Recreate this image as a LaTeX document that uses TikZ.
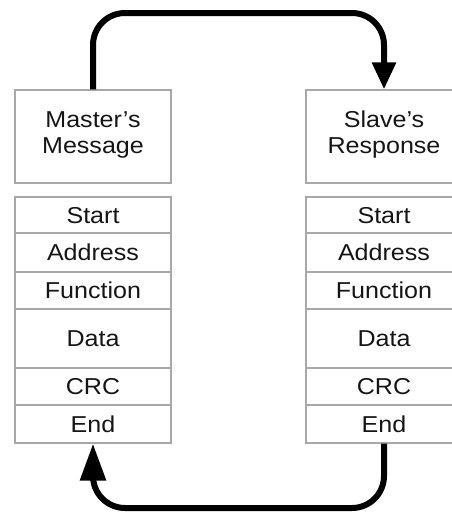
\documentclass[tikz,border=0pt]{standalone}
\usepackage{fontspec}
\setmainfont{Liberation Sans}[FakeStretch=1.09]
\usetikzlibrary{arrows.meta}
\definecolor{boxgray}{HTML}{A8A8A8}
\definecolor{ink}{HTML}{151515}
\tikzset{
  hdr/.style={draw=boxgray, line width=1.3pt, minimum width=156pt, minimum height=93pt, inner sep=0pt},
  fld/.style={draw=boxgray, line width=1.3pt, minimum width=156pt, inner sep=0pt, text height=16.5pt, text depth=0pt, text=ink},
  lbl/.style={align=center, inner sep=0pt, text=ink},
  flow/.style={line width=6pt, rounded corners=32pt}
}
\begin{document}
\begin{tikzpicture}[x=1pt,y=-1pt, font=\fontsize{23}{26}\selectfont]
\useasboundingbox (0,0) rectangle (452,514);
\clip (0,0) rectangle (452,514);
% left column
\node[hdr] (mhead) at (93,136.5) {};
\node[lbl] (mtxt) at (93,134.5) {Master’s\\Message};
\node[fld, minimum height=36pt] (mstart) at (93,215) {Start};
\node[fld, minimum height=39pt] (maddr) at (93,252.5) {Address};
\node[fld, minimum height=37pt] (mfunc) at (93,290.5) {Function};
\node[fld, minimum height=59pt] (mdata) at (93,338.5) {Data};
\node[fld, minimum height=37pt] (mcrc) at (93,386.5) {CRC};
\node[fld, minimum height=38pt] (mend) at (93,424) {End};
% right column
\node[hdr] (shead) at (384,136.5) {};
\node[lbl] (stxt) at (384,134.5) {Slave’s\\Response};
\node[fld, minimum height=36pt] (sstart) at (384,215) {Start};
\node[fld, minimum height=39pt] (saddr) at (384,252.5) {Address};
\node[fld, minimum height=37pt] (sfunc) at (384,290.5) {Function};
\node[fld, minimum height=59pt] (sdata) at (384,338.5) {Data};
\node[fld, minimum height=37pt] (scrc) at (384,386.5) {CRC};
\node[fld, minimum height=38pt] (send) at (384,424) {End};
% connectors
\coordinate (tl) at (93,13);
\coordinate (tr) at (384,13);
\coordinate (bl) at (93,508);
\coordinate (br) at (384,508);
\draw[flow, -{Triangle[length=27pt,width=23pt]}] (mhead.north) -- (tl) -- (tr) -- (shead.north);
\draw[flow, -{Triangle[length=37pt,width=25pt]}] (send.south) -- (br) -- (bl) -- (mend.south);
\end{tikzpicture}
\end{document}
